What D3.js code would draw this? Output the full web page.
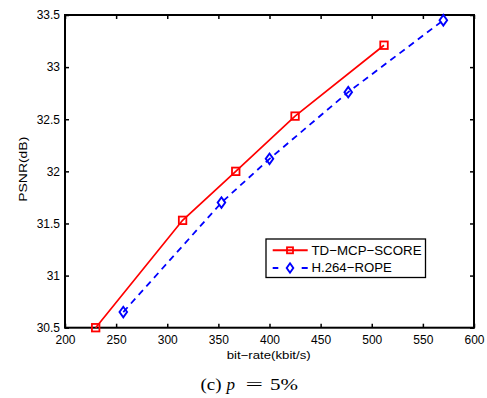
<!DOCTYPE html>
<html><head><meta charset="utf-8">
<script src="https://cdn.jsdelivr.net/npm/d3@7"></script>
<style>body{margin:0;background:#fff;}svg{display:block;}</style>
</head><body>
<svg id="c" width="487" height="398"></svg>
<script>
const seriesNames = ["TD\u2212MCP\u2212SCORE", "H.264\u2212ROPE"];
const tdX = [230, 315, 367, 425, 512];
const tdY = [30.50, 31.53, 32.00, 32.53, 33.21];
const ropeX = [257, 353, 400, 477, 570];
const ropeY = [30.65, 31.70, 32.12, 32.76, 33.45];
const xTicks = [200, 250, 300, 350, 400, 450, 500, 550, 600];
const yTicks = [30.5, 31, 31.5, 32, 32.5, 33, 33.5];
const yTickLabels = ["30.5", "31", "31.5", "32", "32.5", "33", "33.5"];

const svg = d3.select("#c");
const L = 65, R = 474, T = 15, B = 327.7;
const x = d3.scaleLinear().domain([200, 600]).range([L, R]);
const y = d3.scaleLinear().domain([30.5, 33.5]).range([B, T]);
const font = "'Liberation Sans', Arial, Helvetica, sans-serif";
const serif = "'Liberation Serif', 'Times New Roman', serif";

// ticks (inside, all four sides)
const gx = svg.append("g").attr("transform", `translate(0,${B})`)
  .call(d3.axisBottom(x).tickValues(xTicks).tickSizeInner(-4).tickSizeOuter(0).tickPadding(8));
const gxt = svg.append("g").attr("transform", `translate(0,${T})`)
  .call(d3.axisTop(x).tickValues(xTicks).tickSizeInner(-4).tickSizeOuter(0).tickFormat(""));
const gy = svg.append("g").attr("transform", `translate(${L},0)`)
  .call(d3.axisLeft(y).tickValues(yTicks).tickSizeInner(-4).tickSizeOuter(0).tickPadding(5)
    .tickFormat((d, i) => yTickLabels[i]));
const gyr = svg.append("g").attr("transform", `translate(${R},0)`)
  .call(d3.axisRight(y).tickValues(yTicks).tickSizeInner(-4).tickSizeOuter(0).tickFormat(""));
[gx, gxt, gy, gyr].forEach(g => {
  g.select(".domain").remove();
  g.selectAll(".tick line").attr("stroke", "#000").attr("stroke-width", 1.5);
  g.selectAll("text").attr("font-family", font).attr("font-size", 12).attr("fill", "#000");
});

// frame
svg.append("rect").attr("x", L).attr("y", T).attr("width", R - L).attr("height", B - T)
  .attr("fill", "none").attr("stroke", "#000").attr("stroke-width", 2);

const line = d3.line().x(d => x(d[0])).y(d => y(d[1]));
const td = tdX.map((v, i) => [v, tdY[i]]);
const rope = ropeX.map((v, i) => [v, ropeY[i]]);

svg.append("path").datum(td).attr("d", line).attr("fill", "none")
  .attr("stroke", "#ff0000").attr("stroke-width", 1.7);
svg.append("path").datum(rope).attr("d", line).attr("fill", "none")
  .attr("stroke", "#0000ff").attr("stroke-width", 1.8).attr("stroke-dasharray", "6.5,5");

function square(g, cx, cy, s) {
  g.append("rect").attr("x", cx - s / 2).attr("y", cy - s / 2).attr("width", s).attr("height", s)
    .attr("fill", "none").attr("stroke", "#ff0000").attr("stroke-width", 1.8);
}
function diamond(g, cx, cy, w, h) {
  g.append("path").attr("d", `M${cx},${cy - h}L${cx + w},${cy}L${cx},${cy + h}L${cx - w},${cy}Z`)
    .attr("fill", "none").attr("stroke", "#0000ff").attr("stroke-width", 1.9);
}
const mk = svg.append("g");
td.forEach(d => square(mk, x(d[0]), y(d[1]), 7.5));
rope.forEach(d => diamond(mk, x(d[0]), y(d[1]), 3.8, 5.3));

// legend
const lg = svg.append("g");
lg.append("rect").attr("x", 266).attr("y", 239).attr("width", 159.5).attr("height", 38.5)
  .attr("fill", "#fff").attr("stroke", "#000").attr("stroke-width", 1.3);
lg.append("line").attr("x1", 272.7).attr("x2", 307.7).attr("y1", 250.3).attr("y2", 250.3)
  .attr("stroke", "#ff0000").attr("stroke-width", 2);
square(lg, 290, 250.3, 6);
lg.append("line").attr("x1", 272.7).attr("x2", 307.7).attr("y1", 268).attr("y2", 268)
  .attr("stroke", "#0000ff").attr("stroke-width", 2).attr("stroke-dasharray", "5.6,23.4,6.6");
diamond(lg, 290, 268, 3.3, 4.7);
lg.append("text").attr("x", 311.5).attr("y", 255).text(seriesNames[0])
  .attr("font-family", font).attr("font-size", 13.2).attr("textLength", 110).attr("lengthAdjust", "spacingAndGlyphs");
lg.append("text").attr("x", 311.5).attr("y", 272).text(seriesNames[1])
  .attr("font-family", font).attr("font-size", 13.2);

// axis titles
svg.append("text").attr("x", 226.7).attr("y", 359).attr("font-family", font).attr("font-size", 11.5)
  .attr("textLength", 84).attr("lengthAdjust", "spacingAndGlyphs").text("bit\u2212rate(kbit/s)");
svg.append("text").attr("transform", "translate(27,201.7) rotate(-90)")
  .attr("font-family", font).attr("font-size", 11.5)
  .attr("textLength", 65).attr("lengthAdjust", "spacingAndGlyphs").text("PSNR(dB)");

// caption
const capY = 390;
svg.append("text").attr("x", 200.5).attr("y", capY).attr("font-family", serif).attr("font-size", 17)
  .attr("textLength", 21).attr("lengthAdjust", "spacingAndGlyphs").text("(c)");
svg.append("text").attr("x", 226.5).attr("y", capY).attr("font-family", serif).attr("font-size", 17)
  .attr("font-style", "italic").text("p");
svg.append("text").attr("x", 245.5).attr("y", capY).attr("font-family", serif).attr("font-size", 17)
  .attr("textLength", 17.5).attr("lengthAdjust", "spacingAndGlyphs").text("=");
svg.append("text").attr("x", 270).attr("y", capY).attr("font-family", serif).attr("font-size", 17)
  .attr("textLength", 28).attr("lengthAdjust", "spacingAndGlyphs").text("5%");
</script>
</body></html>
